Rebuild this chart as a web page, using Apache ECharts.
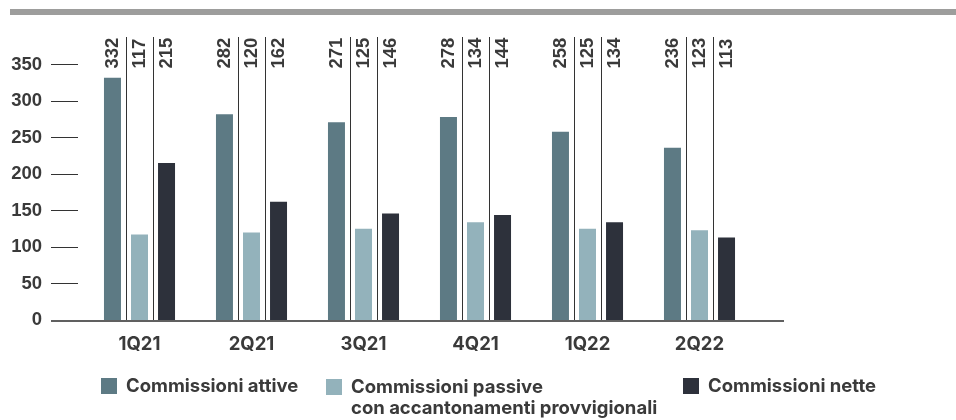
<!DOCTYPE html>
<html>
<head>
<meta charset="utf-8">
<script src="https://cdn.jsdelivr.net/npm/echarts@6/dist/echarts.min.js"></script>
<style>
html,body{margin:0;padding:0;background:#fff;}
#chart{width:956px;height:420px;}
</style>
</head>
<body>
<div id="chart"></div>
<script>
const categories = ['1Q21', '2Q21', '3Q21', '4Q21', '1Q22', '2Q22'];
const attive = [332, 282, 271, 278, 258, 236];
const passive = [117, 120, 125, 134, 125, 123];
const nette = [215, 162, 146, 144, 134, 113];
const yTicks = [0, 50, 100, 150, 200, 250, 300, 350];

const nameAttive = 'Commissioni attive';
const namePassive = 'Commissioni passive\ncon accantonamenti provvigionali';
const nameNette = 'Commissioni nette';

const cAttive = '#5d7a84';
const cPassive = '#93b2bb';
const cNette = '#2d313b';
const txt = '#3a3a3a';
const catFont = 'Inter';
const numFont = '"Liberation Sans", Arial, sans-serif';

const chart = echarts.init(document.getElementById('chart'), null, {renderer: 'canvas'});

const labelData = categories.map((c, i) => [i, attive[i], passive[i], nette[i]]);

function renderLabels(params, api) {
  const idx = api.value(0);
  const c = api.coord([idx, 0]);
  const top = params.coordSys.y;
  const x0 = c[0], base = c[1];
  const offs = [-27, 0, 27];
  const children = [];
  for (let k = 0; k < 3; k++) {
    children.push({
      type: 'text',
      x: x0 + offs[k], y: top + 4,
      rotation: Math.PI / 2,
      style: {
        text: String(api.value(k + 1)),
        align: 'left', verticalAlign: 'middle',
        font: 'bold 18.5px ' + numFont,
        fill: txt
      }
    });
  }
  [-13.5, 13.5].forEach(function (d) {
    const lx = Math.round(x0 + d) + 0.5;
    children.push({
      type: 'line',
      shape: {x1: lx, y1: top - 27.5, x2: lx, y2: base},
      style: {stroke: '#333', lineWidth: 1}
    });
  });
  return {type: 'group', children: children};
}

const legendText = {
  color: txt, fontFamily: catFont, fontWeight: 'bold', fontSize: 18.5, lineHeight: 21, padding: [0, 0, 0, 4]
};

const option = {
  animation: false,
  backgroundColor: '#fff',
  graphic: [
    {type: 'rect', shape: {x: 10, y: 9, width: 946, height: 6}, style: {fill: '#9d9d9c'}, silent: true},
    {type: 'line', shape: {x1: 51, y1: 321, x2: 784, y2: 321}, style: {stroke: '#606060', lineWidth: 2}, silent: true, z: 10}
  ],
  grid: {left: 83.5, right: 200.5, top: 64.5, bottom: 100, containLabel: false},
  xAxis: {
    type: 'category',
    data: categories,
    axisLine: {show: false},
    axisTick: {show: false},
    axisLabel: {margin: 15, color: txt, fontFamily: catFont, fontWeight: 'bold', fontSize: 18.5}
  },
  yAxis: {
    type: 'value',
    min: 0, max: 350, interval: 50,
    offset: 5.5,
    axisLine: {show: false},
    axisTick: {show: true, length: 27, lineStyle: {color: '#333', width: 1}},
    splitLine: {show: false},
    axisLabel: {
      margin: 36, color: txt, fontFamily: numFont, fontWeight: 'bold', fontSize: 18.5,
      formatter: function (v) { return yTicks.indexOf(v) >= 0 ? String(v) : ''; }
    }
  },
  legend: [
    {left: 101, top: 375.5, padding: 0, icon: 'rect', itemWidth: 16, itemHeight: 16, selectedMode: false,
      data: [{name: nameAttive}], textStyle: legendText},
    {left: 326, top: 355.5, padding: 0, icon: 'rect', itemWidth: 16, itemHeight: 16, selectedMode: false,
      formatter: function (n) { return ' \n' + n; },
      data: [{name: namePassive}], textStyle: legendText},
    {left: 683, top: 375.5, padding: 0, icon: 'rect', itemWidth: 16, itemHeight: 16, selectedMode: false,
      data: [{name: nameNette}], textStyle: legendText}
  ],
  series: [
    {name: nameAttive, type: 'bar', data: attive, barWidth: 17, barGap: '59%', itemStyle: {color: cAttive}},
    {name: namePassive, type: 'bar', data: passive, barWidth: 17, barGap: '59%', itemStyle: {color: cPassive}},
    {name: nameNette, type: 'bar', data: nette, barWidth: 17, barGap: '59%', itemStyle: {color: cNette}},
    {name: 'labels', type: 'custom', data: labelData, encode: {x: 0, y: 1}, renderItem: renderLabels, clip: false, z: 5, silent: true}
  ]
};
chart.setOption(option);
</script>
</body>
</html>
